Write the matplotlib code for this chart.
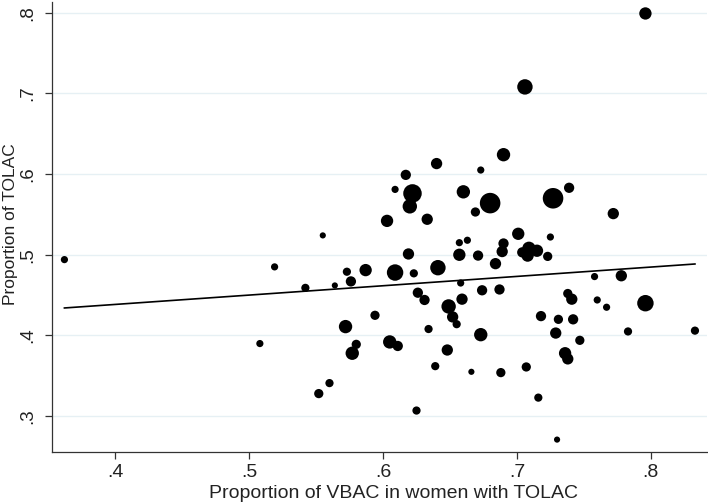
import matplotlib
matplotlib.use("Agg")
import matplotlib.pyplot as plt
import numpy as np

# Data
vbac = [0.362, 0.519, 0.508, 0.542, 0.555, 0.552, 0.560, 0.564, 0.573, 0.576,
        0.572, 0.580, 0.577, 0.587, 0.594, 0.603, 0.609, 0.609, 0.617, 0.622,
        0.620, 0.633, 0.640, 0.619, 0.623, 0.641, 0.660, 0.669, 0.680, 0.673,
        0.657, 0.663, 0.657, 0.671, 0.684, 0.658, 0.626, 0.631, 0.659, 0.649,
        0.652, 0.655, 0.674, 0.687, 0.634, 0.673, 0.605, 0.611, 0.648, 0.639,
        0.666, 0.688, 0.625, 0.690, 0.727, 0.739, 0.772, 0.701, 0.725, 0.690,
        0.689, 0.704, 0.709, 0.715, 0.708, 0.723, 0.758, 0.778, 0.738, 0.741,
        0.760, 0.767, 0.796, 0.718, 0.731, 0.742, 0.729, 0.783, 0.833, 0.747,
        0.736, 0.738, 0.707, 0.716, 0.730, 0.796, 0.706]
tolac = [0.494, 0.485, 0.390, 0.459, 0.524, 0.328, 0.341, 0.462, 0.479, 0.467,
         0.411, 0.389, 0.378, 0.481, 0.425, 0.542, 0.478, 0.581, 0.599, 0.576,
         0.560, 0.544, 0.613, 0.501, 0.477, 0.484, 0.578, 0.553, 0.564, 0.605,
         0.515, 0.518, 0.500, 0.499, 0.489, 0.465, 0.453, 0.444, 0.445, 0.436,
         0.423, 0.414, 0.456, 0.457, 0.408, 0.401, 0.392, 0.387, 0.382, 0.362,
         0.355, 0.354, 0.307, 0.624, 0.570, 0.583, 0.551, 0.526, 0.522, 0.514,
         0.504, 0.503, 0.508, 0.505, 0.499, 0.498, 0.473, 0.474, 0.452, 0.445,
         0.444, 0.435, 0.440, 0.424, 0.420, 0.420, 0.403, 0.405, 0.406, 0.394,
         0.378, 0.371, 0.361, 0.323, 0.271, 0.799, 0.708]
weight = [49, 49, 49, 64, 36, 81, 64, 36, 64, 100,
          169, 81, 169, 144, 81, 144, 256, 49, 100, 324,
          196, 121, 121, 121, 64, 225, 169, 81, 400, 49,
          49, 49, 144, 100, 121, 49, 100, 100, 121, 196,
          121, 64, 100, 100, 64, 169, 169, 100, 121, 64,
          36, 81, 64, 169, 400, 100, 121, 144, 49, 100,
          121, 100, 169, 144, 144, 81, 49, 121, 81, 121,
          49, 49, 256, 100, 81, 100, 121, 64, 64, 81,
          144, 121, 81, 64, 36, 144, 225]

fit_intercept = 0.3922
fit_slope = 0.1157

x_ticks = [0.4, 0.5, 0.6, 0.7, 0.8]
x_ticklabels = [".4", ".5", ".6", ".7", ".8"]
y_ticks = [0.3, 0.4, 0.5, 0.6, 0.7, 0.8]
y_ticklabels = [".3", ".4", ".5", ".6", ".7", ".8"]

plt.rcParams['font.family'] = ['Liberation Sans', 'DejaVu Sans']

fig = plt.figure(figsize=(7.08, 5.04), dpi=100)
W, H = 708, 504
ax = fig.add_axes([51.7 / W, (H - 451.7) / H, (707 - 51.7) / W, (451.7 - 2) / H])

sizes = [(w ** 0.5 * 0.74) ** 2 for w in weight]
ax.scatter(vbac, tolac, s=sizes, c='black', edgecolors='none', zorder=3)

xs = np.array([min(vbac), max(vbac)])
ax.plot(xs, fit_intercept + fit_slope * xs, color='black', lw=1.2, zorder=4)

ax.set_xlim(0.3525, 0.842)
ax.set_ylim(0.256, 0.8132)

ax.set_xticks(x_ticks)
ax.set_xticklabels(x_ticklabels, fontsize=14)
ax.set_yticks(y_ticks)
ax.set_yticklabels(y_ticklabels, fontsize=13.5, rotation=90, va='center')

ax.grid(axis='y', color='#e6f0f4', lw=1.0, zorder=0)
ax.set_axisbelow(True)
for s in ['top', 'right']:
    ax.spines[s].set_visible(False)
for s in ['left', 'bottom']:
    ax.spines[s].set_color('#333333')
    ax.spines[s].set_linewidth(0.9)
ax.tick_params(direction='out', length=5, width=0.9, color='#333333', labelcolor='#222222')
ax.tick_params(axis='x', pad=4)
ax.tick_params(axis='y', pad=6)

ax.set_xlabel("Proportion of VBAC in women with TOLAC", fontsize=14, color='#222222', labelpad=2)
ax.xaxis.set_label_coords(0.522, -0.073)
ax.set_ylabel("Proportion of TOLAC", fontsize=12.5, color='#222222', va='center')
ax.yaxis.set_label_coords(-0.0636, 0.505)

fig.savefig("out.png", dpi=100)
